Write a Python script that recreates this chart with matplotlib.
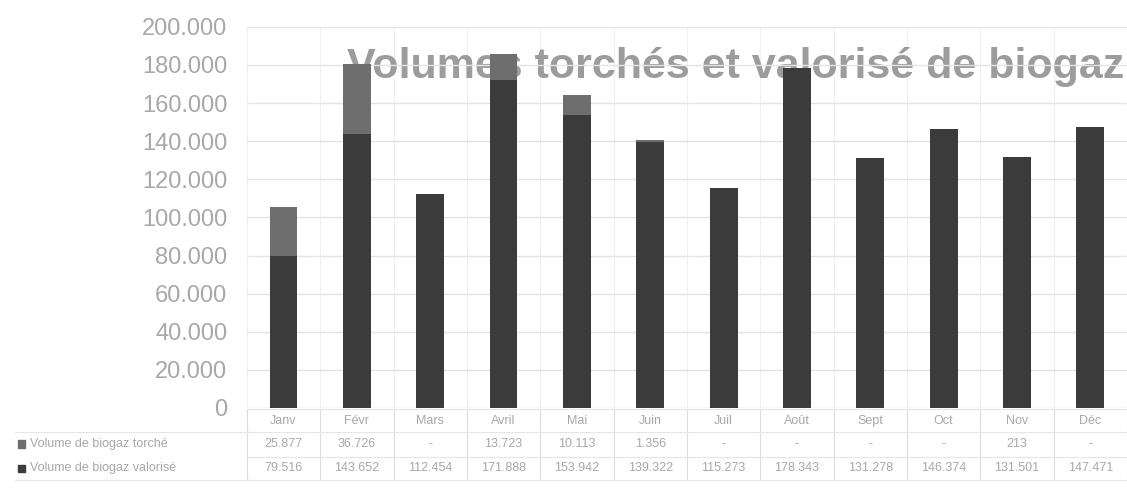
import matplotlib.pyplot as plt
from matplotlib.patches import Rectangle
import matplotlib.transforms as mtransforms

plt.rcParams["font.family"] = ["Liberation Sans", "DejaVu Sans"]

months = ["Janv", "Févr", "Mars", "Avril", "Mai", "Juin",
          "Juil", "Août", "Sept", "Oct", "Nov", "Déc"]
valorise = [79516, 143652, 112454, 171888, 153942, 139322,
            115273, 178343, 131278, 146374, 131501, 147471]
torche = [25877, 36726, 0, 13723, 10113, 1356,
          0, 0, 0, 0, 213, 0]
row_labels = ["Volume de biogaz torché", "Volume de biogaz valorisé"]
yticks = list(range(0, 200001, 20000))

DARK = "#3b3b3b"
LIGHT = "#6e6e6e"
TXT = "#a8a8a8"
GRID = "#e4e4e4"


def fmt(v):
    if v == 0:
        return "-"
    return f"{v:,}".replace(",", ".")


fig = plt.figure(figsize=(11.27, 4.88), dpi=100)
ax = fig.add_axes([0.219, 0.164, 0.781, 0.781])

x = list(range(len(months)))
ax.bar(x, valorise, width=0.38, color=DARK, zorder=3)
ax.bar(x, torche, width=0.38, bottom=valorise, color=LIGHT, zorder=3)

ax.set_xlim(-0.5, len(months) - 0.5)
ax.set_ylim(0, 200000)
ax.set_yticks(yticks)
ax.set_yticklabels([fmt(v) if v else "0" for v in yticks], color=TXT, fontsize=17)
ax.tick_params(axis="y", length=0, pad=14)
ax.set_xticks([])
ax.grid(axis="y", color=GRID, linewidth=1, zorder=0)
for i in range(len(months) + 1):
    ax.axvline(i - 0.5, color="#f0f0f0", linewidth=0.8, zorder=0)
for s in ax.spines.values():
    s.set_visible(False)

ax.text(0.997, 0.895, "Volumes torchés et valorisé de biogaz", transform=ax.transAxes,
        ha="right", va="center", fontsize=31, fontweight="bold", color="#9c9c9c", zorder=1)

# data table under the bars
trans = mtransforms.blended_transform_factory(ax.transData, fig.transFigure)
row_y = [0.138, 0.090, 0.040]
row_h = 0.048
for i, m in enumerate(months):
    ax.text(i, row_y[0], m, transform=trans, ha="center", va="center",
            fontsize=9, color=TXT, clip_on=False)
    ax.text(i, row_y[1], fmt(torche[i]), transform=trans, ha="center", va="center",
            fontsize=9, color=TXT, clip_on=False)
    ax.text(i, row_y[2], fmt(valorise[i]), transform=trans, ha="center", va="center",
            fontsize=9, color=TXT, clip_on=False)

for i in range(len(months) + 1):
    ax.plot([i - 0.5, i - 0.5], [row_y[2] - row_h / 2, row_y[0] + row_h / 2],
            transform=trans, color="#dcdcdc", linewidth=0.8, clip_on=False)
for yy in [row_y[0] + row_h / 2, row_y[1] + row_h / 2, row_y[2] + row_h / 2, row_y[2] - row_h / 2]:
    ax.plot([-0.5, len(months) - 0.5], [yy, yy], transform=trans,
            color="#e6e6e6", linewidth=0.8, clip_on=False)

# row headers with legend keys
fig.lines.append(plt.Line2D([0.013, 0.219], [row_y[1] + row_h / 2] * 2,
                            transform=fig.transFigure, color="#e6e6e6", linewidth=0.8))
fig.lines.append(plt.Line2D([0.013, 0.219], [row_y[2] - row_h / 2] * 2,
                            transform=fig.transFigure, color="#e6e6e6", linewidth=0.8))
for yy, lab, col in zip(row_y[1:], row_labels, [LIGHT, DARK]):
    fig.patches.append(Rectangle((0.016, yy - 0.008), 0.006, 0.016,
                                 transform=fig.transFigure, color=col))
    fig.text(0.027, yy, lab, ha="left", va="center", fontsize=9, color=TXT)

fig.savefig("out.png", dpi=100)
